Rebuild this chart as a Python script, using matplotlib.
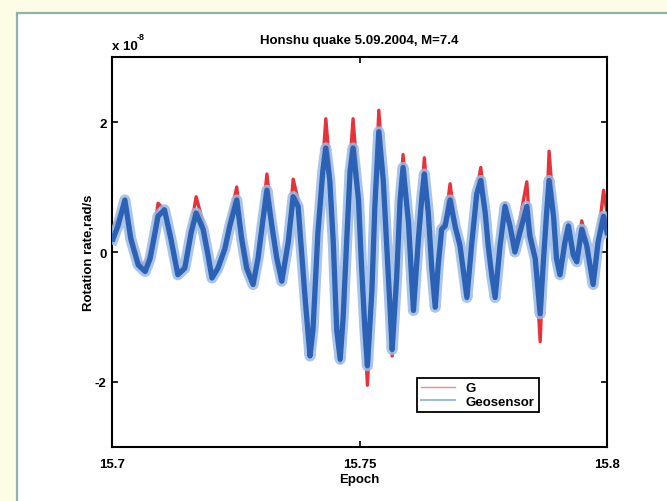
import matplotlib
matplotlib.use("Agg")
import matplotlib.pyplot as plt
from matplotlib.patches import Rectangle

plt.rcParams['font.family'] = ['Liberation Sans', 'DejaVu Sans']
plt.rcParams['axes.unicode_minus'] = False

# knots: epoch and rotation rate in units of 1e-8 rad/s
epoch = [15.7002, 15.7012, 15.7026, 15.7038, 15.7053, 15.7067, 15.7077, 15.7087, 15.7093, 15.7106,
         15.7119, 15.7133, 15.7147, 15.7160, 15.7170, 15.7184, 15.7194, 15.7202, 15.7214, 15.7228,
         15.7238, 15.7252, 15.7262, 15.7272, 15.7285, 15.7295, 15.7305, 15.7313, 15.7323, 15.7333,
         15.7343, 15.7356, 15.7366, 15.7376, 15.7390, 15.7400, 15.7406, 15.7416, 15.7426, 15.7432,
         15.7440, 15.7447, 15.7454, 15.7461, 15.7467, 15.7474, 15.7481, 15.7487, 15.7498, 15.7504,
         15.7511, 15.7516, 15.7525, 15.7531, 15.7539, 15.7548, 15.7555, 15.7562, 15.7566, 15.7575,
         15.7582, 15.7588, 15.7599, 15.7609, 15.7619, 15.7626, 15.7631, 15.7639, 15.7646, 15.7653,
         15.7659, 15.7666, 15.7673, 15.7683, 15.7693, 15.7703, 15.7710, 15.7717, 15.7727, 15.7737,
         15.7745, 15.7754, 15.7760, 15.7767, 15.7774, 15.7784, 15.7794, 15.7804, 15.7814, 15.7824,
         15.7838, 15.7844, 15.7855, 15.7865, 15.7871, 15.7878, 15.7883, 15.7892, 15.7898, 15.7905,
         15.7915, 15.7922, 15.7932, 15.7939, 15.7949, 15.7959, 15.7972, 15.7982, 15.7993, 15.8000]

g = [0.4, 0.5, 0.8, 0.3, -0.15, -0.2, 0.0, 0.4, 0.75, 0.65,
     0.3, -0.3, -0.2, 0.4, 0.85, 0.45, 0.05, -0.35, -0.2, 0.1,
     0.5, 1.0, 0.3, -0.1, -0.45, -0.1, 0.6, 1.2, 0.5, -0.05,
     -0.4, 0.2, 1.12, 0.8, -0.7, -1.6, -1.2, 0.3, 1.4, 2.05,
     1.3, 0.2, -1.25, -1.7, -1.0, 0.15, 1.4, 2.05, 0.95, -0.2,
     -1.3, -2.05, -0.6, 0.7, 2.18, 1.2, 0.1, -0.95, -1.6, -0.4,
     0.85, 1.5, 0.5, -0.85, 0.2, 0.9, 1.45, 0.65, -0.2, -0.8,
     -0.15, 0.4, 0.45, 1.05, 0.45, 0.15, -0.25, -0.6, 0.2, 0.95,
     1.3, 0.65, 0.1, -0.3, -0.45, 0.15, 0.75, 0.45, 0.15, 0.5,
     1.08, 0.4, -0.05, -1.38, -0.25, 0.6, 1.55, 0.65, -0.05, -0.3,
     0.2, 0.45, 0.0, -0.1, 0.48, 0.15, -0.45, 0.2, 0.95, 0.6]

geo = [0.2, 0.4, 0.8, 0.2, -0.2, -0.3, -0.1, 0.3, 0.55, 0.65,
       0.2, -0.35, -0.25, 0.3, 0.6, 0.35, -0.05, -0.4, -0.25, 0.05,
       0.4, 0.8, 0.2, -0.25, -0.5, -0.1, 0.5, 0.95, 0.4, -0.1,
       -0.45, 0.15, 0.85, 0.7, -0.7, -1.6, -1.2, 0.3, 1.25, 1.6,
       1.1, 0.15, -1.2, -1.65, -1.0, 0.15, 1.25, 1.6, 0.8, -0.2,
       -1.2, -1.75, -0.6, 0.7, 1.85, 1.1, 0.1, -0.9, -1.5, -0.4,
       0.8, 1.3, 0.45, -0.9, 0.2, 0.85, 1.2, 0.6, -0.25, -0.85,
       -0.2, 0.35, 0.4, 0.8, 0.4, 0.1, -0.3, -0.7, 0.15, 0.9,
       1.1, 0.6, 0.1, -0.35, -0.7, 0.1, 0.7, 0.4, 0.0, 0.3,
       0.7, 0.25, -0.1, -0.95, -0.2, 0.6, 1.1, 0.55, -0.1, -0.35,
       0.15, 0.4, -0.05, -0.15, 0.35, 0.1, -0.5, 0.15, 0.55, 0.3]

fs = 9.5

fig = plt.figure(figsize=(6.67, 5.02), dpi=100)
fig.patch.set_facecolor('#fdfce4')
fig.patches.append(Rectangle((17 / 667, -0.02), 1.0, 1 - 14 / 502 + 0.02,
                             transform=fig.transFigure, facecolor='white',
                             edgecolor='#8fb0ae', linewidth=1.6, zorder=-10))

ax = fig.add_axes([112 / 667, 1 - 448 / 502, 495 / 667, 390 / 502])
ax.plot(epoch, g, color='#e8323a', lw=2.4, zorder=2)
ax.plot(epoch, geo, color='#9bbbe4', lw=8, alpha=0.85, zorder=3)
ax.plot(epoch, geo, color='#2b62b6', lw=3.8, zorder=4)
# thin proxies for the legend
ax.plot([], [], color='#f08a90', lw=1.0, label='G')
ax.plot([], [], color='#9bbbe4', lw=1.5, label='Geosensor')

ax.set_xlim(15.7, 15.8)
ax.set_ylim(-3, 3)
ax.set_xticks([15.7, 15.75, 15.8])
ax.set_xticklabels(['15.7', '15.75', '15.8'])
ax.set_yticks([-2, 0, 2])
ax.set_yticklabels(['-2', '0', '2'])
ax.tick_params(direction='in', top=True, right=True, length=4, width=1.2,
               labelsize=fs, pad=4)
ax.tick_params(axis='x', pad=8)
for lab in ax.get_xticklabels() + ax.get_yticklabels():
    lab.set_fontweight('bold')
for s in ax.spines.values():
    s.set_linewidth(1.5)

ax.set_title('Honshu quake 5.09.2004, M=7.4', fontsize=fs, fontweight='bold', pad=10)
ax.set_xlabel('Epoch', fontsize=fs, fontweight='bold', labelpad=2)
ax.set_ylabel('Rotation rate,rad/s', fontsize=fs, fontweight='bold')
ax.yaxis.set_label_coords(-0.035, 0.5)
ax.text(0.0, 1.012, 'x 10', transform=ax.transAxes, fontsize=fs,
        fontweight='bold', va='bottom', ha='left')
ax.text(0.05, 1.042, '-8', transform=ax.transAxes, fontsize=6.5,
        fontweight='bold', va='bottom', ha='left')

leg = ax.legend(loc='lower left', bbox_to_anchor=(0.616, 0.09), borderaxespad=0,
                fancybox=False, edgecolor='black', fontsize=fs, handlelength=2.6,
                borderpad=0.3, labelspacing=0.1, framealpha=1)
leg.get_frame().set_linewidth(1.3)
for t in leg.get_texts():
    t.set_fontweight('bold')

fig.savefig('out.png', dpi=100, facecolor=fig.get_facecolor())
